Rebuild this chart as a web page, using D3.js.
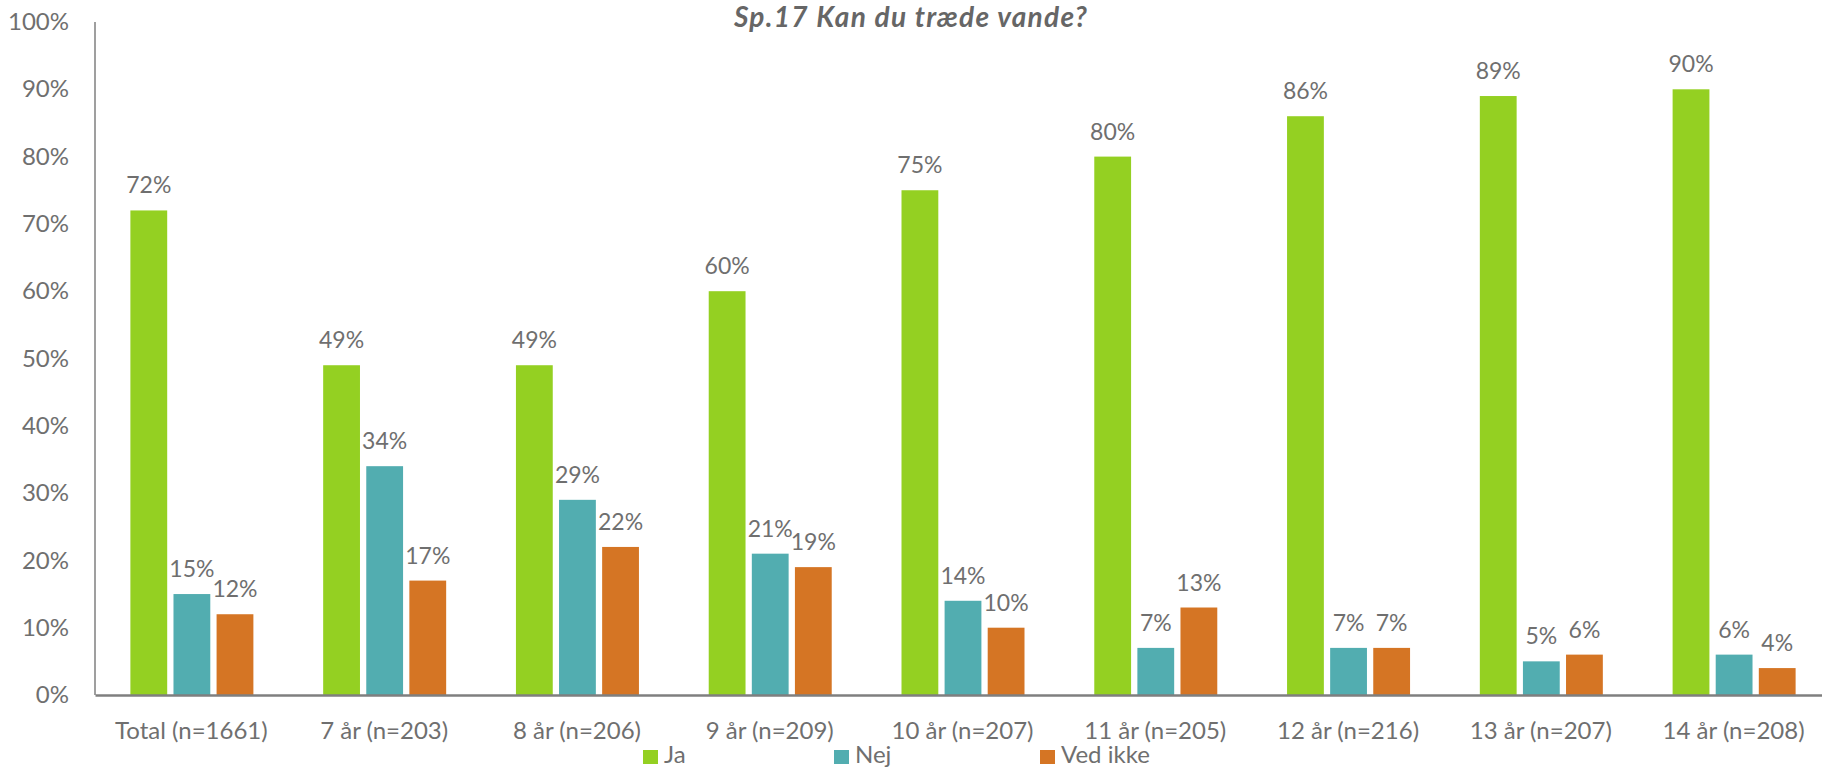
<!DOCTYPE html>
<html>
<head>
<meta charset="utf-8">
<script src="https://cdn.jsdelivr.net/npm/d3@7"></script>
<style>
  html, body { margin: 0; padding: 0; background: #fff; }
  svg { display: block; }
  text { font-family: Lato, "Open Sans", sans-serif; fill: #6f6f6f; }
</style>
</head>
<body>
<svg id="chart" width="1822" height="768"></svg>
<script>
const categories = ["Total (n=1661)", "7 år (n=203)", "8 år (n=206)", "9 år (n=209)", "10 år (n=207)", "11 år (n=205)", "12 år (n=216)", "13 år (n=207)", "14 år (n=208)"];
const seriesNames = ["Ja", "Nej", "Ved ikke"];
const ja      = [72, 49, 49, 60, 75, 80, 86, 89, 90];
const nej     = [15, 34, 29, 21, 14, 7, 7, 5, 6];
const vedIkke = [12, 17, 22, 19, 10, 13, 7, 6, 4];
const yTicks  = [0, 10, 20, 30, 40, 50, 60, 70, 80, 90, 100];
const colors  = ["#94d022", "#52adb0", "#d57524"];
const title   = "Sp.17 Kan du træde vande?";

const series = [ja, nej, vedIkke];
const svg = d3.select("#chart");

const mLeft = 95, mRight = 1830, mTop = 22, mBottom = 695;

const x = d3.scaleBand().domain(categories).range([mLeft, mRight]).paddingInner(0).paddingOuter(0);
const inner = d3.scaleBand().domain(seriesNames).range([-61, 62]).paddingInner(0.146).paddingOuter(0);
const y = d3.scaleLinear().domain([0, 100]).range([mBottom, mTop]);

// Y axis labels
const yAxis = d3.axisLeft(y).tickValues(yTicks).tickFormat(d => d + "%").tickSize(0).tickPadding(26);
const gy = svg.append("g").attr("transform", `translate(${mLeft},0)`).call(yAxis);
gy.select(".domain").remove();
gy.selectAll("text").style("font-size", "24px").style("font-family", "Lato, sans-serif").attr("fill", "#6f6f6f");

// Bars
const groups = svg.append("g").selectAll("g")
  .data(categories)
  .join("g")
  .attr("transform", d => `translate(${x(d) + x.bandwidth() / 2},0)`);

groups.selectAll("rect")
  .data((d, i) => seriesNames.map((s, k) => ({ s, k, v: series[k][i] })))
  .join("rect")
  .attr("x", d => inner(d.s))
  .attr("width", inner.bandwidth())
  .attr("y", d => y(d.v))
  .attr("height", d => y(0) - y(d.v))
  .attr("fill", d => colors[d.k]);

groups.selectAll("text.lbl")
  .data((d, i) => seriesNames.map((s, k) => ({ s, k, v: series[k][i] })))
  .join("text")
  .attr("class", "lbl")
  .attr("x", d => inner(d.s) + inner.bandwidth() / 2)
  .attr("y", d => y(d.v) - 17)
  .attr("text-anchor", "middle")
  .style("font-size", "23px")
  .text(d => d.v + "%");

// Axis lines
svg.append("line").attr("x1", mLeft).attr("x2", mLeft).attr("y1", mTop).attr("y2", mBottom)
  .attr("stroke", "#7f7f7f").attr("stroke-width", 1.5);

const xAxis = d3.axisBottom(x).tickSize(0).tickPadding(27);
const gx = svg.append("g").attr("transform", `translate(0,${mBottom})`).call(xAxis);
gx.select(".domain").attr("stroke", "#7f7f7f").attr("stroke-width", 2.5);
gx.selectAll("text").style("font-size", "24px").style("font-family", "Lato, sans-serif").attr("fill", "#6f6f6f").attr("dy", "0.71em");

// Title
svg.append("text").attr("x", 911).attr("y", 27).attr("text-anchor", "middle")
  .style("font-size", "28px").style("font-weight", "bold").style("font-style", "italic")
  .style("letter-spacing", "1.3px")
  .style("fill", "#666666")
  .text(title);

// Legend
const legendX = [643, 834, 1040];
const lg = svg.append("g").selectAll("g").data(seriesNames).join("g")
  .attr("transform", (d, i) => `translate(${legendX[i]},0)`);
lg.append("rect").attr("x", 0).attr("y", 750).attr("width", 15).attr("height", 14).attr("fill", (d, i) => colors[i]);
lg.append("text").attr("x", 21).attr("y", 763).style("font-size", "24px").text(d => d);
</script>
</body>
</html>
